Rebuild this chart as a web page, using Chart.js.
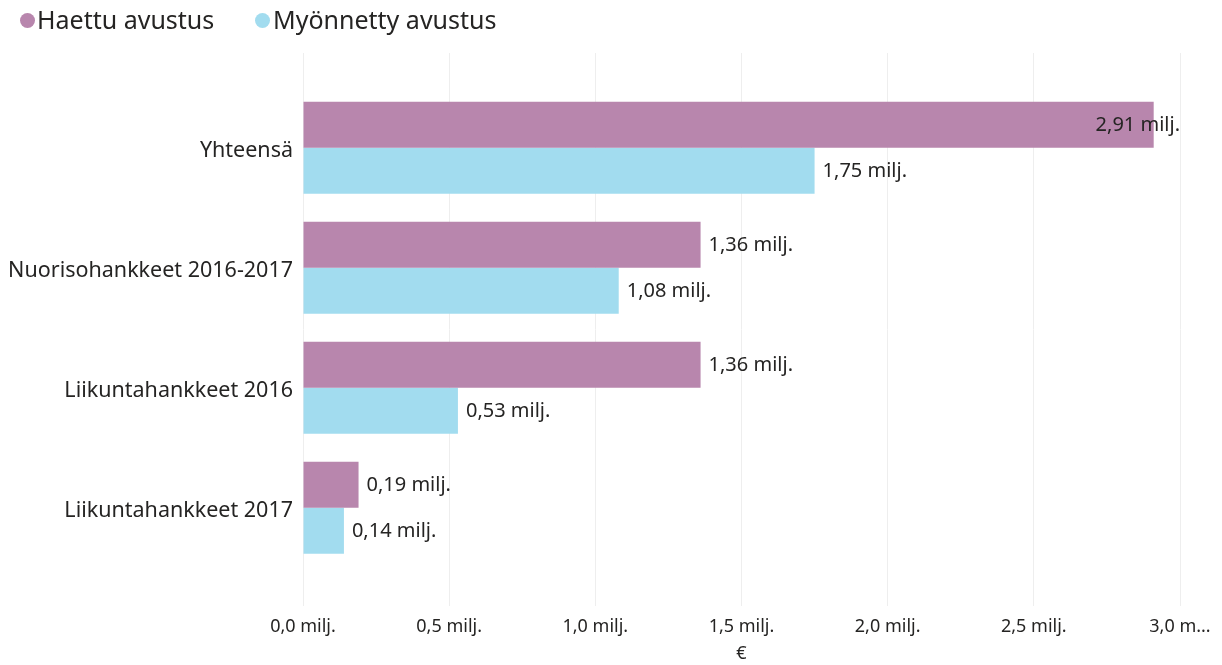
<!DOCTYPE html>
<html>
<head>
<meta charset="utf-8">
<script src="https://cdn.jsdelivr.net/npm/chart.js@4"></script>
<style>
html,body{margin:0;padding:0;background:#fff;}
#wrap{width:1222px;height:665px;position:relative;}
#c{position:absolute;left:0;top:0;}
.lg-dot{position:absolute;width:15px;height:15px;border-radius:50%;}
.lg-txt{position:absolute;top:7px;font-family:'Noto Sans','Open Sans',sans-serif;font-size:25px;line-height:1;color:#252423;white-space:nowrap;}
</style>
</head>
<body>
<div id="wrap">
<canvas id="c" width="1222" height="665"></canvas>
<div id="legend"></div>
</div>
<script>
const categories = ['Yhteensä', 'Nuorisohankkeet 2016-2017', 'Liikuntahankkeet 2016', 'Liikuntahankkeet 2017'];
const haettu = [2.91, 1.36, 1.36, 0.19];
const myonnetty = [1.75, 1.08, 0.53, 0.14];
const haettuLabels = ['2,91 milj.', '1,36 milj.', '1,36 milj.', '0,19 milj.'];
const myonnettyLabels = ['1,75 milj.', '1,08 milj.', '0,53 milj.', '0,14 milj.'];
const xTickValues = [0, 0.5, 1.0, 1.5, 2.0, 2.5, 3.0];
const xTickLabels = ['0,0 milj.', '0,5 milj.', '1,0 milj.', '1,5 milj.', '2,0 milj.', '2,5 milj.', '3,0 m...'];
const seriesNames = ['Haettu avustus', 'Myönnetty avustus'];
const colors = ['#B886AD', '#A2DCEF'];
const FONT = "'Noto Sans', 'Open Sans', sans-serif";

const valueLabels = [haettuLabels, myonnettyLabels];

// HTML legend (real text)
const legendDots = [19.5, 254.5];
const legendTexts = [37, 273];
const legendEl = document.getElementById('legend');
seriesNames.forEach((name, i) => {
  const d = document.createElement('div');
  d.className = 'lg-dot';
  d.style.left = legendDots[i] + 'px';
  d.style.top = '12.5px';
  d.style.background = colors[i];
  legendEl.appendChild(d);
  const t = document.createElement('div');
  t.className = 'lg-txt';
  t.style.left = legendTexts[i] + 'px';
  t.textContent = name;
  legendEl.appendChild(t);
});

const labelPlugin = {
  id: 'valueLabels',
  afterDatasetsDraw(chart) {
    const ctx = chart.ctx;
    const area = chart.chartArea;
    ctx.save();
    ctx.font = '20px ' + FONT;
    ctx.fillStyle = '#252423';
    ctx.textBaseline = 'middle';
    chart.data.datasets.forEach((ds, di) => {
      const meta = chart.getDatasetMeta(di);
      meta.data.forEach((el, i) => {
        const txt = valueLabels[di][i];
        const w = ctx.measureText(txt).width;
        let x = el.x + 8;
        if (x + w > area.right + 2) {
          ctx.textAlign = 'right';
          x = area.right;
        } else {
          ctx.textAlign = 'left';
        }
        ctx.fillText(txt, x, el.y + 1);
      });
    });
    ctx.restore();
  }
};

new Chart(document.getElementById('c'), {
  type: 'bar',
  data: {
    datasets: [
      { label: seriesNames[0], data: haettu.map((v, i) => ({ x: v, y: i })), backgroundColor: colors[0], borderWidth: 0, categoryPercentage: 0.767, barPercentage: 1.0 },
      { label: seriesNames[1], data: myonnetty.map((v, i) => ({ x: v, y: i })), backgroundColor: colors[1], borderWidth: 0, categoryPercentage: 0.767, barPercentage: 1.0 }
    ]
  },
  options: {
    responsive: false,
    animation: false,
    indexAxis: 'y',
    layout: { padding: { left: 0, right: 42, top: 53, bottom: 0 } },
    plugins: {
      legend: { display: false },
      tooltip: { enabled: false }
    },
    scales: {
      x: {
        type: 'linear',
        min: 0,
        max: 3.0,
        afterBuildTicks(scale) { scale.ticks = xTickValues.map(v => ({ value: v })); },
        ticks: {
          callback: (v, i) => xTickLabels[i],
          color: '#252423',
          font: { family: FONT, size: 18 },
          maxRotation: 0,
          padding: 10
        },
        grid: { color: '#EEEEEE', lineWidth: 1, drawTicks: false },
        border: { display: false },
        title: { display: true, text: '€', color: '#252423', font: { family: FONT, size: 18 }, padding: { top: 4, bottom: 0 } },
        afterFit(scale) { scale.height = 59; }
      },
      y: {
        type: 'linear',
        reverse: true,
        offset: false,
        min: -0.79,
        max: 3.82,
        afterBuildTicks(scale) { scale.ticks = categories.map((c, i) => ({ value: i })); },
        ticks: {
          callback: (v) => categories[v],
          color: '#252423',
          font: { family: FONT, size: 21.5 },
          padding: 10,
          labelOffset: 3
        },
        grid: { display: false, drawTicks: false },
        border: { display: false },
        afterFit(scale) { scale.width = 303; }
      }
    }
  },
  plugins: [labelPlugin]
});
</script>
</body>
</html>
